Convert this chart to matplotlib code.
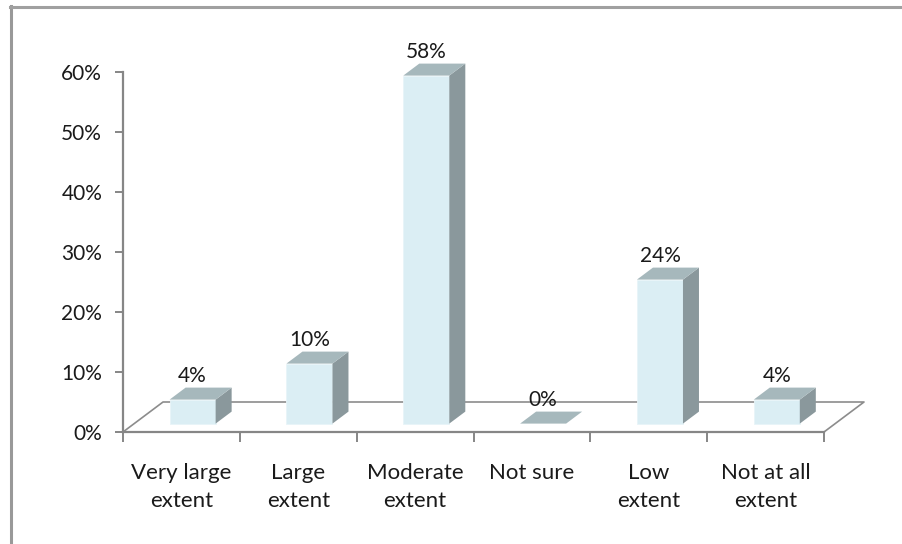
import matplotlib.pyplot as plt
from matplotlib.patches import Polygon
from matplotlib.lines import Line2D
from matplotlib.ticker import FuncFormatter

# data
categories = ["Very large\nextent", "Large\nextent", "Moderate\nextent",
              "Not sure", "Low\nextent", "Not at all\nextent"]
values = [4, 10, 58, 0, 24, 4]
yticks = [0, 10, 20, 30, 40, 50, 60]

plt.rcParams['font.family'] = ['Lato', 'DejaVu Sans']

W, H = 902, 544
fig = plt.figure(figsize=(W / 100, H / 100), dpi=100)
# axes box in pixels: x 123..824, y 432..72 (from top)
ax = fig.add_axes([123 / W, (H - 432) / H, (824 - 123) / W, 360 / H])
ax.set_xlim(0, len(categories))
ax.set_ylim(0, 60)

# fake 3D floor depth (in data units)
DX, DY = 40 / 116.8, 5.0
f0, f1 = 0.28, 0.68      # bar front / back position within the depth
bw = 0.394               # bar width

front_c = "#DBEEF4"
top_c = "#A6B8BC"
side_c = "#8A989C"
line_c = "#8C8C8C"
txt_c = "#1a1a1a"

n = len(categories)
# floor outline (back + diagonals)
ax.add_line(Line2D([0, DX, n + DX, n], [0, DY, DY, 0], color=line_c, lw=1.2,
                   clip_on=False, zorder=1))

for i, v in enumerate(values):
    c = i + 0.5
    xl = c - bw / 2 + f0 * DX
    xr = c + bw / 2 + f0 * DX
    yb = f0 * DY
    yt = v + f0 * DY
    sdx, sdy = (f1 - f0) * DX, (f1 - f0) * DY
    if v > 0:
        ax.add_patch(Polygon([(xl, yb), (xr, yb), (xr, yt), (xl, yt)], closed=True,
                             facecolor=front_c, edgecolor="#E8F4F8", lw=0.6,
                             clip_on=False, zorder=3))
        ax.add_patch(Polygon([(xr, yb), (xr + sdx, yb + sdy), (xr + sdx, yt + sdy), (xr, yt)],
                             closed=True, facecolor=side_c, edgecolor="none",
                             clip_on=False, zorder=3))
    ax.add_patch(Polygon([(xl, yt), (xr, yt), (xr + sdx, yt + sdy), (xl + sdx, yt + sdy)],
                         closed=True, facecolor=top_c, edgecolor="none",
                         clip_on=False, zorder=3))
    ax.text(c + f0 * DX, v + 5.4, f"{v}%", ha="center", va="center",
            fontsize=15, color=txt_c, zorder=4)

# axes styling
for s in ["top", "right"]:
    ax.spines[s].set_visible(False)
for s in ["left", "bottom"]:
    ax.spines[s].set_color("#868686")
    ax.spines[s].set_linewidth(1.6)
    ax.spines[s].set_zorder(2)

ax.set_yticks(yticks)
ax.yaxis.set_major_formatter(FuncFormatter(lambda y, p: f"{y:.0f}%"))
ax.tick_params(axis="y", length=6, width=1.4, color="#868686", pad=9,
               labelsize=15, labelcolor=txt_c)

ax.set_xticks(range(n + 1))
ax.set_xticklabels([])
ax.tick_params(axis="x", which="major", length=7, width=1.4, color="#868686")
ax.set_xticks([i + 0.5 for i in range(n)], minor=True)
ax.set_xticklabels(categories, minor=True, fontsize=16, color=txt_c,
                   linespacing=1.55, va="top")
ax.tick_params(axis="x", which="minor", length=0, pad=22)
ax.patch.set_visible(False)

# chart frame (only left and top edges are in the crop)
fig.add_artist(Line2D([10.5 / W, 10.5 / W], [0, 1 - 6 / H], color="#999999", lw=2.2,
                      transform=fig.transFigure))
fig.add_artist(Line2D([10 / W, 1], [1 - 6.5 / H, 1 - 6.5 / H], color="#A0A0A0", lw=2.2,
                      transform=fig.transFigure))

fig.savefig("out.png", dpi=100)
